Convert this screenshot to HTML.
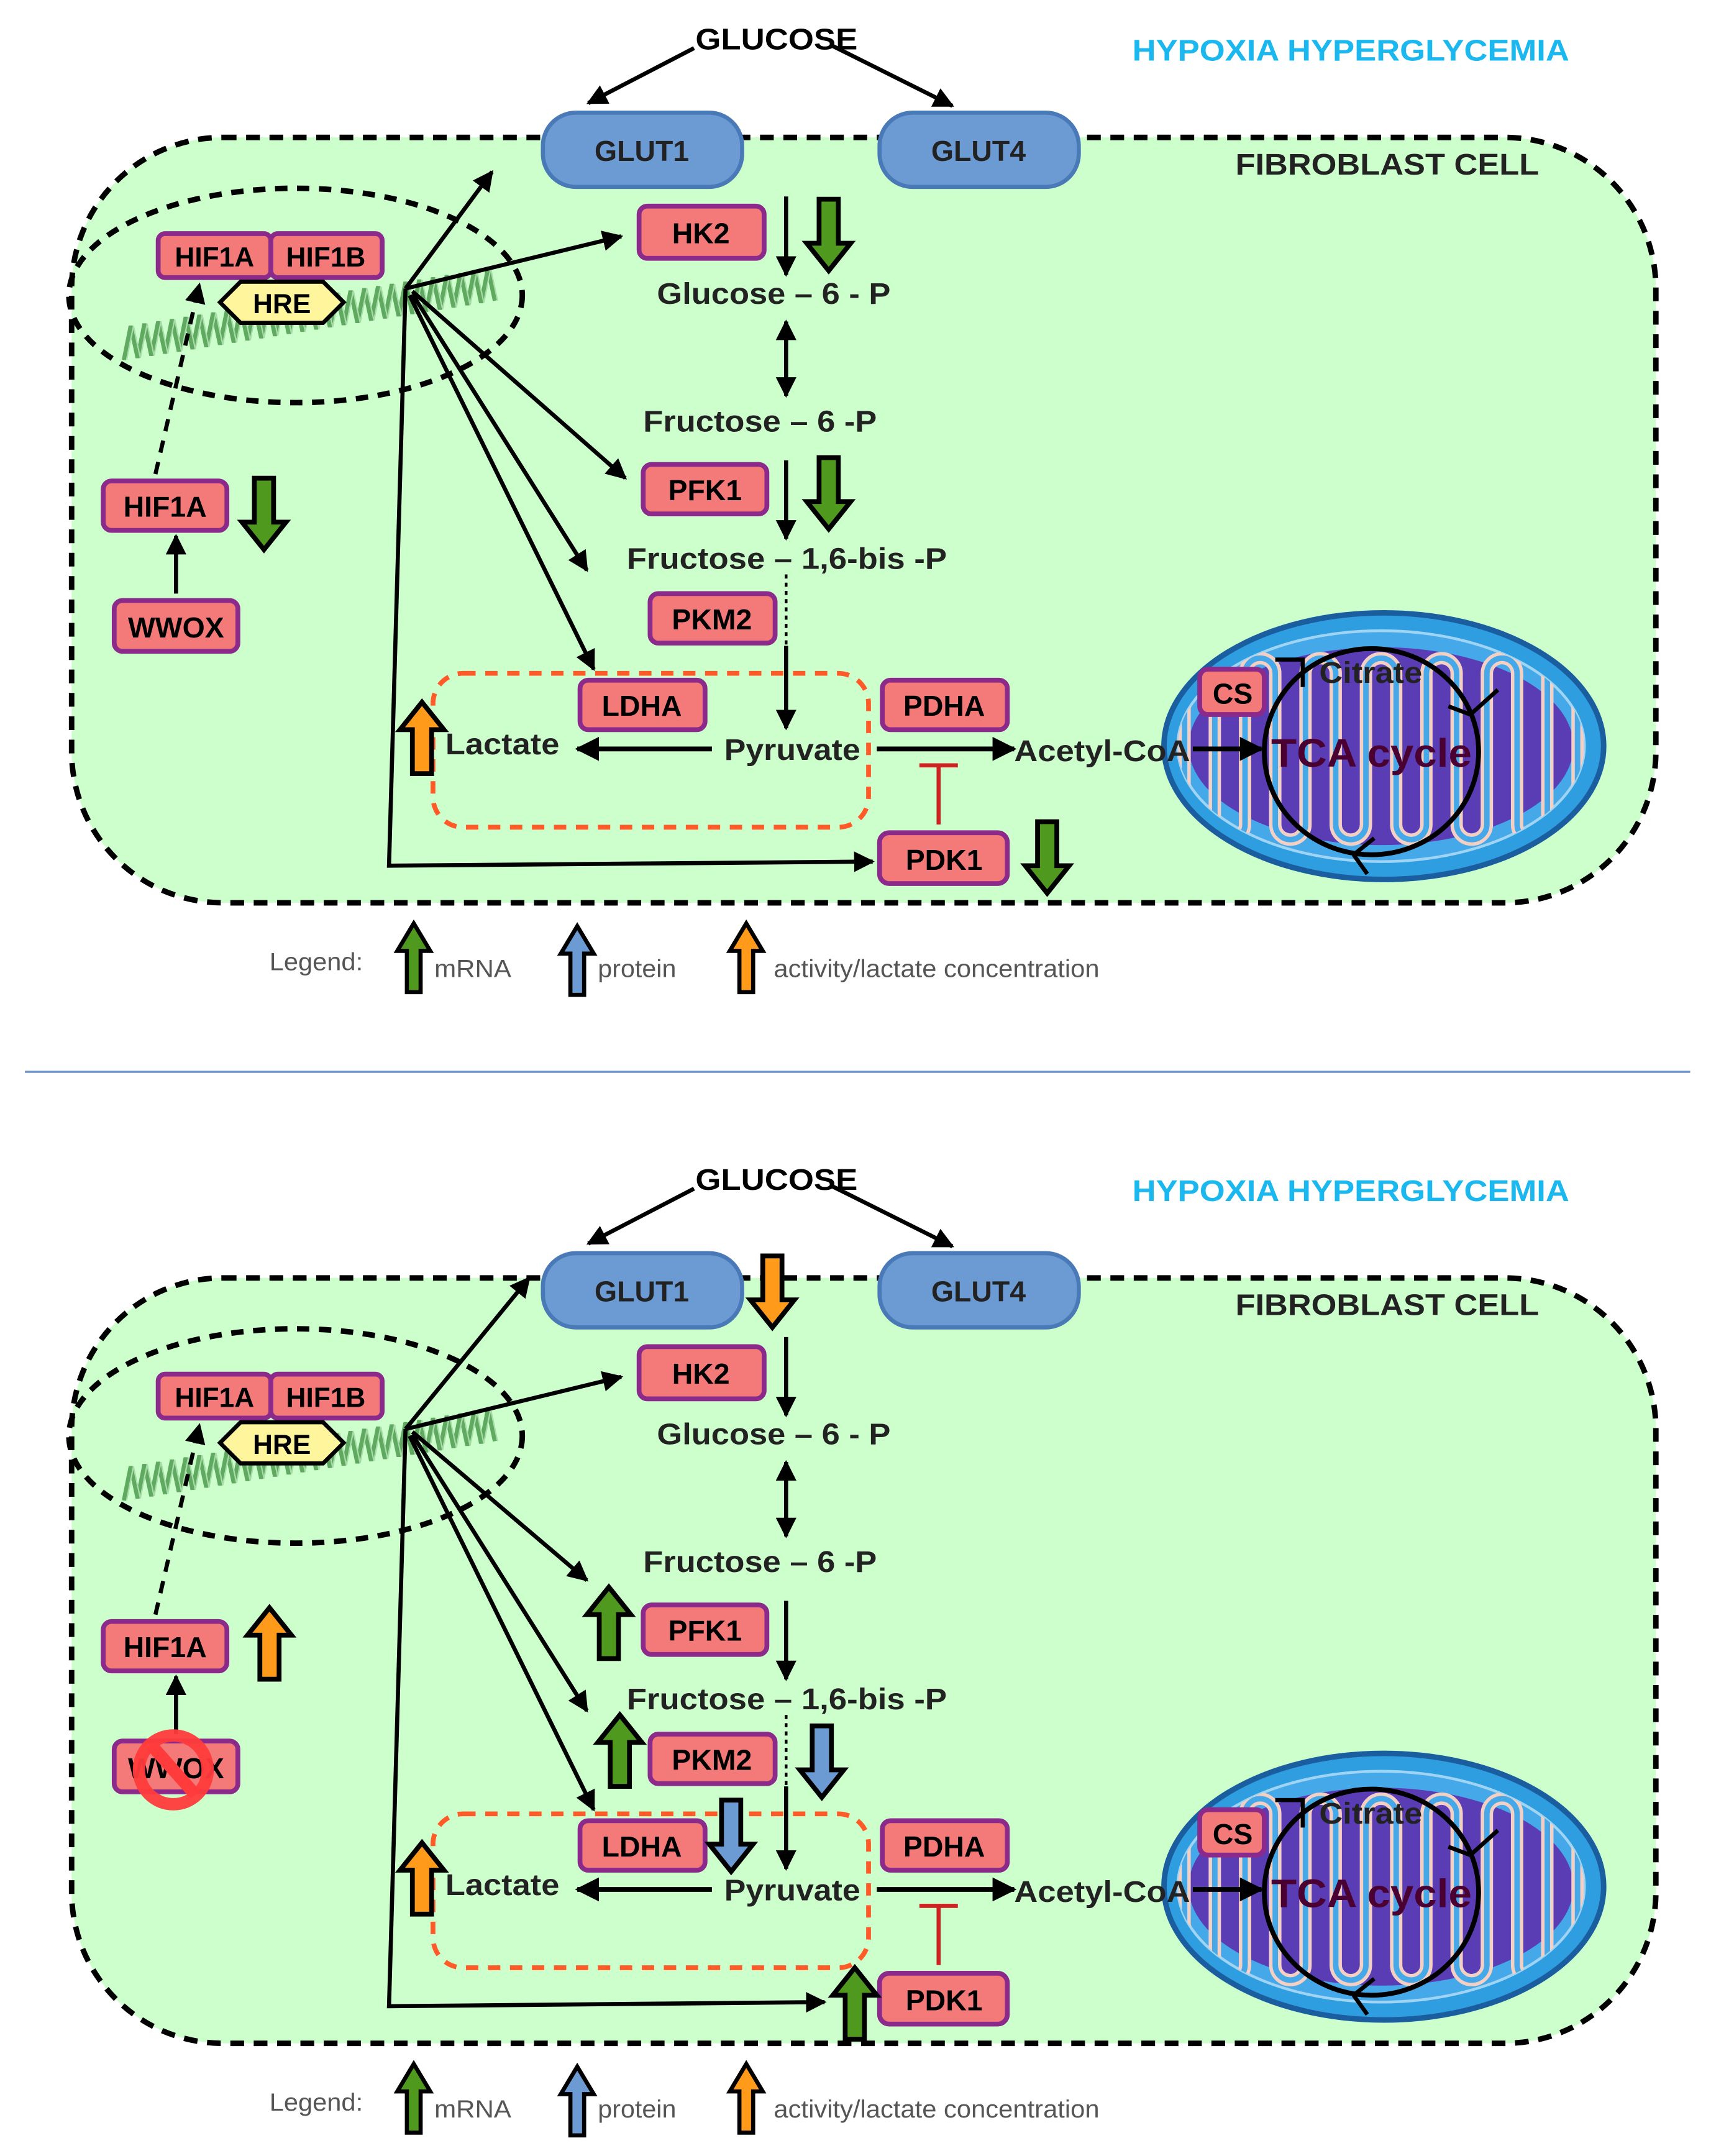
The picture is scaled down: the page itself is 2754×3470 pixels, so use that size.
<!DOCTYPE html>
<html><head><meta charset="utf-8"><style>
html,body{margin:0;padding:0;background:#fff}
svg{display:block}
text{font-family:"Liberation Sans",sans-serif;font-weight:bold}
text.n{font-weight:normal}
</style></head><body>
<svg width="2754" height="3470" viewBox="0 0 1245 1569" xmlns="http://www.w3.org/2000/svg">
<defs>
<marker id="ah" viewBox="0 0 10 10" refX="9" refY="5" markerWidth="5" markerHeight="5" orient="auto-start-reverse"><path d="M0,0L10,5L0,10z" fill="#000"/></marker>
<path id="up" d="M0,0 L16,20 L7,20 L7,52 L-7,52 L-7,20 L-16,20 Z" stroke="#000" stroke-width="3.5" stroke-linejoin="miter"/>
<path id="upL" d="M0,0 L12,20 L5,20 L5,50 L-5,50 L-5,20 L-12,20 Z" stroke="#000" stroke-width="3" />
<clipPath id="mc"><ellipse cx="1005" cy="543" rx="148" ry="84"/></clipPath>
<polyline id="dna" fill="none" points="90,262 95,237.2 100,260.4 105,235.6 110,258.8 115,234 120,257.2 125,232.4 130,255.6 135,230.8 140,254 145,229.2 150,252.4 155,227.6 160,250.8 165,226 170,249.2 175,224.4 180,247.6 185,222.8 190,246 195,221.2 200,244.4 205,219.6 210,242.8 215,218 220,241.2 225,216.4 230,239.6 235,214.8 240,238 245,213.2 250,236.4 255,211.6 260,234.8 265,210 270,233.2 275,208.4 280,231.6 285,206.8 290,230 295,205.2 300,228.4 305,203.6 310,226.8 315,202 320,225.2 325,200.4 330,223.6 335,198.8 340,222 345,197.2 350,220.4 355,195.6 360,218.8"/>
</defs>

<!-- ===== PANEL 1 ===== -->
<g>
<rect x="52" y="100" width="1153" height="557" rx="110" fill="#ccffcc" stroke="#000" stroke-width="4" stroke-dasharray="10,7"/>
<text x="565" y="36" font-size="22" text-anchor="middle" textLength="118" lengthAdjust="spacingAndGlyphs">GLUCOSE</text>
<line x1="505" y1="35" x2="428" y2="75" stroke="#000" stroke-width="3" marker-end="url(#ah)"/>
<line x1="605" y1="33" x2="693" y2="77" stroke="#000" stroke-width="3" marker-end="url(#ah)"/>
<text x="824" y="44" font-size="22" fill="#1ab8ef" textLength="318" lengthAdjust="spacingAndGlyphs">HYPOXIA HYPERGLYCEMIA</text>
<text x="899" y="127" font-size="22" fill="#222" textLength="221" lengthAdjust="spacingAndGlyphs">FIBROBLAST CELL</text>
<rect x="395" y="82" width="145" height="54" rx="24" fill="#6b9bd2" stroke="#4a79b8" stroke-width="3"/>
<text x="467" y="117" font-size="21" text-anchor="middle" fill="#222">GLUT1</text>
<rect x="640" y="82" width="145" height="54" rx="24" fill="#6b9bd2" stroke="#4a79b8" stroke-width="3"/>
<text x="712" y="117" font-size="21" text-anchor="middle" fill="#222">GLUT4</text>
<ellipse cx="215" cy="215" rx="165" ry="78" fill="none" stroke="#000" stroke-width="4" stroke-dasharray="9,7"/>
<use href="#dna" stroke="#3c8c3c" stroke-width="3" opacity="0.75"/>
<use href="#dna" stroke="#a8dca8" stroke-width="1" x="2"/>
<rect x="115" y="170" width="82" height="32" rx="5" fill="#f47a7a" stroke="#8b2a8b" stroke-width="3.5"/>
<text x="156" y="194" font-size="20" text-anchor="middle">HIF1A</text>
<rect x="197" y="170" width="81" height="32" rx="5" fill="#f47a7a" stroke="#8b2a8b" stroke-width="3.5"/>
<text x="237" y="194" font-size="20" text-anchor="middle">HIF1B</text>
<polygon points="160,220 175,205 235,205 250,220 235,235 175,235" fill="#fff59d" stroke="#000" stroke-width="3"/>
<text x="205" y="228" font-size="20" text-anchor="middle">HRE</text>
<g stroke="#000" stroke-width="3" fill="none" marker-end="url(#ah)">
<line x1="295" y1="210" x2="358" y2="125"/>
<line x1="295" y1="210" x2="452" y2="172"/>
<line x1="300" y1="212" x2="455" y2="348"/>
<line x1="300" y1="214" x2="427" y2="415"/>
<line x1="298" y1="215" x2="432" y2="487"/>
<polyline points="295,210 283,630 635,627"/>
</g>
<line x1="113" y1="345" x2="145" y2="207" stroke="#000" stroke-width="3" stroke-dasharray="9,7" marker-end="url(#ah)"/>
<rect x="75" y="350" width="90" height="36" rx="6" fill="#f47a7a" stroke="#8b2a8b" stroke-width="3.5"/>
<text x="120" y="376" font-size="21" text-anchor="middle">HIF1A</text>
<rect x="83" y="437" width="90" height="37" rx="6" fill="#f47a7a" stroke="#8b2a8b" stroke-width="3.5"/>
<text x="128" y="464" font-size="21" text-anchor="middle">WWOX</text>
<line x1="128" y1="432" x2="128" y2="390" stroke="#000" stroke-width="3" marker-end="url(#ah)"/>
<rect x="465" y="150" width="91" height="38" rx="6" fill="#f47a7a" stroke="#8b2a8b" stroke-width="3.5"/>
<text x="510" y="177" font-size="21" text-anchor="middle">HK2</text>
<text x="478" y="221" font-size="22" fill="#222" textLength="170" lengthAdjust="spacingAndGlyphs">Glucose – 6 - P</text>
<text x="468" y="314" font-size="22" fill="#222" textLength="170" lengthAdjust="spacingAndGlyphs">Fructose – 6 -P</text>
<rect x="468" y="338" width="90" height="36" rx="6" fill="#f47a7a" stroke="#8b2a8b" stroke-width="3.5"/>
<text x="513" y="364" font-size="21" text-anchor="middle">PFK1</text>
<text x="456" y="414" font-size="22" fill="#222" textLength="233" lengthAdjust="spacingAndGlyphs">Fructose – 1,6-bis -P</text>
<rect x="473" y="432" width="91" height="36" rx="6" fill="#f47a7a" stroke="#8b2a8b" stroke-width="3.5"/>
<text x="518" y="458" font-size="21" text-anchor="middle">PKM2</text>
<g stroke="#000" stroke-width="3" fill="none">
<line x1="572" y1="143" x2="572" y2="200" marker-end="url(#ah)"/>
<line x1="572" y1="234" x2="572" y2="288" marker-start="url(#ah)" marker-end="url(#ah)"/>
<line x1="572" y1="335" x2="572" y2="392" marker-end="url(#ah)"/>
<line x1="572" y1="418" x2="572" y2="470" stroke-width="2" stroke-dasharray="3,3"/>
<line x1="572" y1="470" x2="572" y2="530" marker-end="url(#ah)"/>
</g>
<rect x="315" y="490" width="317" height="112" rx="22" fill="none" stroke="#ff5a28" stroke-width="3.5" stroke-dasharray="9,7"/>
<rect x="422" y="495" width="91" height="36" rx="6" fill="#f47a7a" stroke="#8b2a8b" stroke-width="3.5"/>
<text x="467" y="521" font-size="21" text-anchor="middle">LDHA</text>
<rect x="642" y="495" width="91" height="36" rx="6" fill="#f47a7a" stroke="#8b2a8b" stroke-width="3.5"/>
<text x="687" y="521" font-size="21" text-anchor="middle">PDHA</text>
<text x="527" y="553" font-size="22" fill="#222" textLength="99" lengthAdjust="spacingAndGlyphs">Pyruvate</text>
<text x="324" y="549" font-size="22" fill="#222" textLength="83" lengthAdjust="spacingAndGlyphs">Lactate</text>
<g stroke="#000" stroke-width="3.5" fill="none">
<line x1="518" y1="545" x2="420" y2="545" marker-end="url(#ah)"/>
<line x1="638" y1="545" x2="738" y2="545" marker-end="url(#ah)"/>
</g>
<path d="M683,600 V557 M669,557 H697" stroke="#cc2222" stroke-width="3" fill="none"/>
<rect x="640" y="606" width="93" height="37" rx="7" fill="#f47a7a" stroke="#8b2a8b" stroke-width="3.5"/>
<text x="687" y="633" font-size="21" text-anchor="middle">PDK1</text>
<ellipse cx="1007" cy="543" rx="160" ry="97" fill="#2e9ee0" stroke="#1a5ea0" stroke-width="4"/>
<ellipse cx="1005" cy="543" rx="148" ry="84" fill="#45a8e8" stroke="#9fd4f4" stroke-width="2"/>
<g clip-path="url(#mc)">
<ellipse cx="1005" cy="543" rx="140" ry="72" fill="#5a3db5"/>
<path d="M862,600 V490 a11,11 0 0 1 22,0 V600 a11,11 0 0 0 22,0 V490 a11,11 0 0 1 22,0 V600 a11,11 0 0 0 22,0 V490 a11,11 0 0 1 22,0 V600 a11,11 0 0 0 22,0 V490 a11,11 0 0 1 22,0 V600 a11,11 0 0 0 22,0 V490 a11,11 0 0 1 22,0 V600 a11,11 0 0 0 22,0 V490 a11,11 0 0 1 22,0 V600 a11,11 0 0 0 22,0 V490 a11,11 0 0 1 22,0 V600" fill="none" stroke="#f3cfc4" stroke-width="9"/>
<path d="M862,600 V490 a11,11 0 0 1 22,0 V600 a11,11 0 0 0 22,0 V490 a11,11 0 0 1 22,0 V600 a11,11 0 0 0 22,0 V490 a11,11 0 0 1 22,0 V600 a11,11 0 0 0 22,0 V490 a11,11 0 0 1 22,0 V600 a11,11 0 0 0 22,0 V490 a11,11 0 0 1 22,0 V600 a11,11 0 0 0 22,0 V490 a11,11 0 0 1 22,0 V600 a11,11 0 0 0 22,0 V490 a11,11 0 0 1 22,0 V600" fill="none" stroke="#45a8e8" stroke-width="4"/>
</g>
<ellipse cx="998" cy="547" rx="78" ry="75" fill="none" stroke="#000" stroke-width="3.5"/>
<path d="M1070,520 l20,-18 M1070,520 l-16,-6" stroke="#000" stroke-width="3"/>
<path d="M985,622 l15,-12 M985,622 l10,14" stroke="#000" stroke-width="3"/>
<path d="M928,480 h20 v20" stroke="#000" stroke-width="3" fill="none"/>
<rect x="873" y="487" width="47" height="33" rx="6" fill="#f47a7a" stroke="#8b2a8b" stroke-width="3.5"/>
<text x="897" y="512" font-size="21" text-anchor="middle">CS</text>
<text x="960" y="497" font-size="22" fill="#222" textLength="75" lengthAdjust="spacingAndGlyphs">Citrate</text>
<text x="925" y="558" font-size="29" fill="#4a0030" textLength="146" lengthAdjust="spacingAndGlyphs">TCA cycle</text>
<text x="738" y="554" font-size="22" fill="#222" textLength="128" lengthAdjust="spacingAndGlyphs">Acetyl-CoA</text>
<line x1="868" y1="545" x2="918" y2="545" stroke="#000" stroke-width="3.5" marker-end="url(#ah)"/>
<text x="196" y="706" font-size="18" fill="#555" class="n" textLength="68" lengthAdjust="spacingAndGlyphs">Legend:</text>
<use href="#upL" x="301" y="672" fill="#4f9a1e"/>
<text x="316" y="711" font-size="18" fill="#555" class="n" textLength="56" lengthAdjust="spacingAndGlyphs">mRNA</text>
<use href="#upL" x="420" y="674" fill="#6b9bd2"/>
<text x="435" y="711" font-size="18" fill="#555" class="n" textLength="57" lengthAdjust="spacingAndGlyphs">protein</text>
<use href="#upL" x="543" y="672" fill="#ff9a1a"/>
<text x="563" y="711" font-size="18" fill="#555" class="n" textLength="237" lengthAdjust="spacingAndGlyphs">activity/lactate concentration</text>
</g>
<use href="#up" transform="translate(603,197) scale(1,-1)" fill="#4f9a1e"/>
<use href="#up" transform="translate(603,385) scale(1,-1)" fill="#4f9a1e"/>
<use href="#up" transform="translate(192,400) scale(1,-1)" fill="#4f9a1e"/>
<use href="#up" transform="translate(762,650) scale(1,-1)" fill="#4f9a1e"/>
<use href="#up" x="307" y="511" fill="#ff9a1a"/>

<line x1="18" y1="780" x2="1230" y2="780" stroke="#6d93d0" stroke-width="1.5"/>

<!-- ===== PANEL 2 ===== -->
<g transform="translate(0,830)">
<rect x="52" y="100" width="1153" height="557" rx="110" fill="#ccffcc" stroke="#000" stroke-width="4" stroke-dasharray="10,7"/>
<text x="565" y="36" font-size="22" text-anchor="middle" textLength="118" lengthAdjust="spacingAndGlyphs">GLUCOSE</text>
<line x1="505" y1="35" x2="428" y2="75" stroke="#000" stroke-width="3" marker-end="url(#ah)"/>
<line x1="605" y1="33" x2="693" y2="77" stroke="#000" stroke-width="3" marker-end="url(#ah)"/>
<text x="824" y="44" font-size="22" fill="#1ab8ef" textLength="318" lengthAdjust="spacingAndGlyphs">HYPOXIA HYPERGLYCEMIA</text>
<text x="899" y="127" font-size="22" fill="#222" textLength="221" lengthAdjust="spacingAndGlyphs">FIBROBLAST CELL</text>
<rect x="395" y="82" width="145" height="54" rx="24" fill="#6b9bd2" stroke="#4a79b8" stroke-width="3"/>
<text x="467" y="117" font-size="21" text-anchor="middle" fill="#222">GLUT1</text>
<rect x="640" y="82" width="145" height="54" rx="24" fill="#6b9bd2" stroke="#4a79b8" stroke-width="3"/>
<text x="712" y="117" font-size="21" text-anchor="middle" fill="#222">GLUT4</text>
<ellipse cx="215" cy="215" rx="165" ry="78" fill="none" stroke="#000" stroke-width="4" stroke-dasharray="9,7"/>
<use href="#dna" stroke="#3c8c3c" stroke-width="3" opacity="0.75"/>
<use href="#dna" stroke="#a8dca8" stroke-width="1" x="2"/>
<rect x="115" y="170" width="82" height="32" rx="5" fill="#f47a7a" stroke="#8b2a8b" stroke-width="3.5"/>
<text x="156" y="194" font-size="20" text-anchor="middle">HIF1A</text>
<rect x="197" y="170" width="81" height="32" rx="5" fill="#f47a7a" stroke="#8b2a8b" stroke-width="3.5"/>
<text x="237" y="194" font-size="20" text-anchor="middle">HIF1B</text>
<polygon points="160,220 175,205 235,205 250,220 235,235 175,235" fill="#fff59d" stroke="#000" stroke-width="3"/>
<text x="205" y="228" font-size="20" text-anchor="middle">HRE</text>
<g stroke="#000" stroke-width="3" fill="none" marker-end="url(#ah)">
<line x1="295" y1="210" x2="385" y2="100"/>
<line x1="295" y1="210" x2="452" y2="172"/>
<line x1="300" y1="212" x2="427" y2="320"/>
<line x1="300" y1="214" x2="427" y2="415"/>
<line x1="298" y1="215" x2="432" y2="487"/>
<polyline points="295,210 283,630 600,627"/>
</g>
<line x1="113" y1="345" x2="145" y2="207" stroke="#000" stroke-width="3" stroke-dasharray="9,7" marker-end="url(#ah)"/>
<rect x="75" y="350" width="90" height="36" rx="6" fill="#f47a7a" stroke="#8b2a8b" stroke-width="3.5"/>
<text x="120" y="376" font-size="21" text-anchor="middle">HIF1A</text>
<rect x="83" y="437" width="90" height="37" rx="6" fill="#f47a7a" stroke="#8b2a8b" stroke-width="3.5"/>
<text x="128" y="464" font-size="21" text-anchor="middle">WWOX</text>
<line x1="128" y1="432" x2="128" y2="390" stroke="#000" stroke-width="3" marker-end="url(#ah)"/>
<circle cx="126" cy="458" r="25" fill="none" stroke="#ff3b3b" stroke-width="9" opacity="0.95"/>
<line x1="110" y1="440" x2="142" y2="476" stroke="#ff3b3b" stroke-width="9"/>
<rect x="465" y="150" width="91" height="38" rx="6" fill="#f47a7a" stroke="#8b2a8b" stroke-width="3.5"/>
<text x="510" y="177" font-size="21" text-anchor="middle">HK2</text>
<text x="478" y="221" font-size="22" fill="#222" textLength="170" lengthAdjust="spacingAndGlyphs">Glucose – 6 - P</text>
<text x="468" y="314" font-size="22" fill="#222" textLength="170" lengthAdjust="spacingAndGlyphs">Fructose – 6 -P</text>
<rect x="468" y="338" width="90" height="36" rx="6" fill="#f47a7a" stroke="#8b2a8b" stroke-width="3.5"/>
<text x="513" y="364" font-size="21" text-anchor="middle">PFK1</text>
<text x="456" y="414" font-size="22" fill="#222" textLength="233" lengthAdjust="spacingAndGlyphs">Fructose – 1,6-bis -P</text>
<rect x="473" y="432" width="91" height="36" rx="6" fill="#f47a7a" stroke="#8b2a8b" stroke-width="3.5"/>
<text x="518" y="458" font-size="21" text-anchor="middle">PKM2</text>
<g stroke="#000" stroke-width="3" fill="none">
<line x1="572" y1="143" x2="572" y2="200" marker-end="url(#ah)"/>
<line x1="572" y1="234" x2="572" y2="288" marker-start="url(#ah)" marker-end="url(#ah)"/>
<line x1="572" y1="335" x2="572" y2="392" marker-end="url(#ah)"/>
<line x1="572" y1="418" x2="572" y2="470" stroke-width="2" stroke-dasharray="3,3"/>
<line x1="572" y1="470" x2="572" y2="530" marker-end="url(#ah)"/>
</g>
<rect x="315" y="490" width="317" height="112" rx="22" fill="none" stroke="#ff5a28" stroke-width="3.5" stroke-dasharray="9,7"/>
<rect x="422" y="495" width="91" height="36" rx="6" fill="#f47a7a" stroke="#8b2a8b" stroke-width="3.5"/>
<text x="467" y="521" font-size="21" text-anchor="middle">LDHA</text>
<rect x="642" y="495" width="91" height="36" rx="6" fill="#f47a7a" stroke="#8b2a8b" stroke-width="3.5"/>
<text x="687" y="521" font-size="21" text-anchor="middle">PDHA</text>
<text x="527" y="553" font-size="22" fill="#222" textLength="99" lengthAdjust="spacingAndGlyphs">Pyruvate</text>
<text x="324" y="549" font-size="22" fill="#222" textLength="83" lengthAdjust="spacingAndGlyphs">Lactate</text>
<g stroke="#000" stroke-width="3.5" fill="none">
<line x1="518" y1="545" x2="420" y2="545" marker-end="url(#ah)"/>
<line x1="638" y1="545" x2="738" y2="545" marker-end="url(#ah)"/>
</g>
<path d="M683,600 V557 M669,557 H697" stroke="#cc2222" stroke-width="3" fill="none"/>
<rect x="640" y="606" width="93" height="37" rx="7" fill="#f47a7a" stroke="#8b2a8b" stroke-width="3.5"/>
<text x="687" y="633" font-size="21" text-anchor="middle">PDK1</text>
<ellipse cx="1007" cy="543" rx="160" ry="97" fill="#2e9ee0" stroke="#1a5ea0" stroke-width="4"/>
<ellipse cx="1005" cy="543" rx="148" ry="84" fill="#45a8e8" stroke="#9fd4f4" stroke-width="2"/>
<g clip-path="url(#mc)">
<ellipse cx="1005" cy="543" rx="140" ry="72" fill="#5a3db5"/>
<path d="M862,600 V490 a11,11 0 0 1 22,0 V600 a11,11 0 0 0 22,0 V490 a11,11 0 0 1 22,0 V600 a11,11 0 0 0 22,0 V490 a11,11 0 0 1 22,0 V600 a11,11 0 0 0 22,0 V490 a11,11 0 0 1 22,0 V600 a11,11 0 0 0 22,0 V490 a11,11 0 0 1 22,0 V600 a11,11 0 0 0 22,0 V490 a11,11 0 0 1 22,0 V600 a11,11 0 0 0 22,0 V490 a11,11 0 0 1 22,0 V600" fill="none" stroke="#f3cfc4" stroke-width="9"/>
<path d="M862,600 V490 a11,11 0 0 1 22,0 V600 a11,11 0 0 0 22,0 V490 a11,11 0 0 1 22,0 V600 a11,11 0 0 0 22,0 V490 a11,11 0 0 1 22,0 V600 a11,11 0 0 0 22,0 V490 a11,11 0 0 1 22,0 V600 a11,11 0 0 0 22,0 V490 a11,11 0 0 1 22,0 V600 a11,11 0 0 0 22,0 V490 a11,11 0 0 1 22,0 V600 a11,11 0 0 0 22,0 V490 a11,11 0 0 1 22,0 V600" fill="none" stroke="#45a8e8" stroke-width="4"/>
</g>
<ellipse cx="998" cy="547" rx="78" ry="75" fill="none" stroke="#000" stroke-width="3.5"/>
<path d="M1070,520 l20,-18 M1070,520 l-16,-6" stroke="#000" stroke-width="3"/>
<path d="M985,622 l15,-12 M985,622 l10,14" stroke="#000" stroke-width="3"/>
<path d="M928,480 h20 v20" stroke="#000" stroke-width="3" fill="none"/>
<rect x="873" y="487" width="47" height="33" rx="6" fill="#f47a7a" stroke="#8b2a8b" stroke-width="3.5"/>
<text x="897" y="512" font-size="21" text-anchor="middle">CS</text>
<text x="960" y="497" font-size="22" fill="#222" textLength="75" lengthAdjust="spacingAndGlyphs">Citrate</text>
<text x="925" y="558" font-size="29" fill="#4a0030" textLength="146" lengthAdjust="spacingAndGlyphs">TCA cycle</text>
<text x="738" y="554" font-size="22" fill="#222" textLength="128" lengthAdjust="spacingAndGlyphs">Acetyl-CoA</text>
<line x1="868" y1="545" x2="918" y2="545" stroke="#000" stroke-width="3.5" marker-end="url(#ah)"/>
<text x="196" y="706" font-size="18" fill="#555" class="n" textLength="68" lengthAdjust="spacingAndGlyphs">Legend:</text>
<use href="#upL" x="301" y="672" fill="#4f9a1e"/>
<text x="316" y="711" font-size="18" fill="#555" class="n" textLength="56" lengthAdjust="spacingAndGlyphs">mRNA</text>
<use href="#upL" x="420" y="674" fill="#6b9bd2"/>
<text x="435" y="711" font-size="18" fill="#555" class="n" textLength="57" lengthAdjust="spacingAndGlyphs">protein</text>
<use href="#upL" x="543" y="672" fill="#ff9a1a"/>
<text x="563" y="711" font-size="18" fill="#555" class="n" textLength="237" lengthAdjust="spacingAndGlyphs">activity/lactate concentration</text>
<use href="#up" transform="translate(562,136) scale(1,-1)" fill="#ff9a1a"/>
<use href="#up" x="443" y="325" fill="#4f9a1e"/>
<use href="#up" x="451" y="418" fill="#4f9a1e"/>
<use href="#up" transform="translate(598,478) scale(1,-1)" fill="#6b9bd2"/>
<use href="#up" transform="translate(532,532) scale(1,-1)" fill="#6b9bd2"/>
<use href="#up" x="196" y="340" fill="#ff9a1a"/>
<use href="#up" x="622" y="602" fill="#4f9a1e"/>
<use href="#up" x="307" y="511" fill="#ff9a1a"/>
</g>
</svg>
</body></html>
